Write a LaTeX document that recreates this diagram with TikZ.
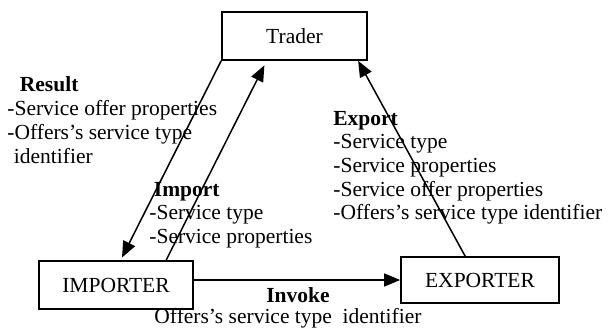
\documentclass[tikz,border=0pt]{standalone}
\usepackage{fontspec}
\setmainfont{Liberation Serif}
\usetikzlibrary{arrows.meta,calc}
\newcommand{\lines}[1]{\begin{tabular}[t]{@{}l@{}}#1\end{tabular}}
\begin{document}
\begin{tikzpicture}[x=1pt,y=-1pt,
  txt/.style={font=\fontsize{21.5}{23.7}\selectfont},
  box/.style={txt,draw,line width=1.7pt,inner sep=0pt},
  flow/.style={line width=1.5pt,-{Triangle[length=16pt,width=13pt]}},
  lbl/.style={txt,anchor=base west,inner sep=0pt}]
\useasboundingbox (0,0) rectangle (608,329);

% the three parties
\node[box,minimum width=145pt,minimum height=48pt] (trader) at (294.5,36) {Trader};
\node[box,minimum width=154pt,minimum height=48pt] (imp) at (116,285) {IMPORTER};
\node[box,minimum width=158pt,minimum height=46pt] (exp) at (480,280) {EXPORTER};

% message flows
\draw[flow,shorten >=3pt] (trader.south west) -- ([xshift=82.5pt]imp.north west);
\draw[flow,shorten >=5pt] ([xshift=128pt]imp.north west) -- ([xshift=45.5pt]trader.south west);
\draw[flow] ([xshift=65pt]exp.north west) -- ([xshift=137pt]trader.south west);
\draw[flow] (imp.east |- exp.west) -- (exp.west);

% message contents
\node[lbl] (result) at (7.2,92) {\lines{\hspace*{12.5pt}\textbf{Result}\\
  -Service offer properties\\
  -Offers’s service type\\
  \hspace*{6.5pt}identifier}};
\node[lbl] (import) at (149.2,196) {\lines{\hspace*{4.5pt}\textbf{Import}\\
  -Service type\\
  -Service properties}};
\node[lbl] (export) at (333.2,125) {\lines{\textbf{Export}\\
  -Service type\\
  -Service properties\\
  -Service offer properties\\
  -Offers’s service type identifier}};
\node[txt,anchor=base,inner sep=0pt] (invoke) at (298,302) {\textbf{Invoke}};
\node[txt,anchor=base,inner sep=0pt] (invargs) at (288,323) {Offers’s service type\ \ identifier};
\end{tikzpicture}
\end{document}
